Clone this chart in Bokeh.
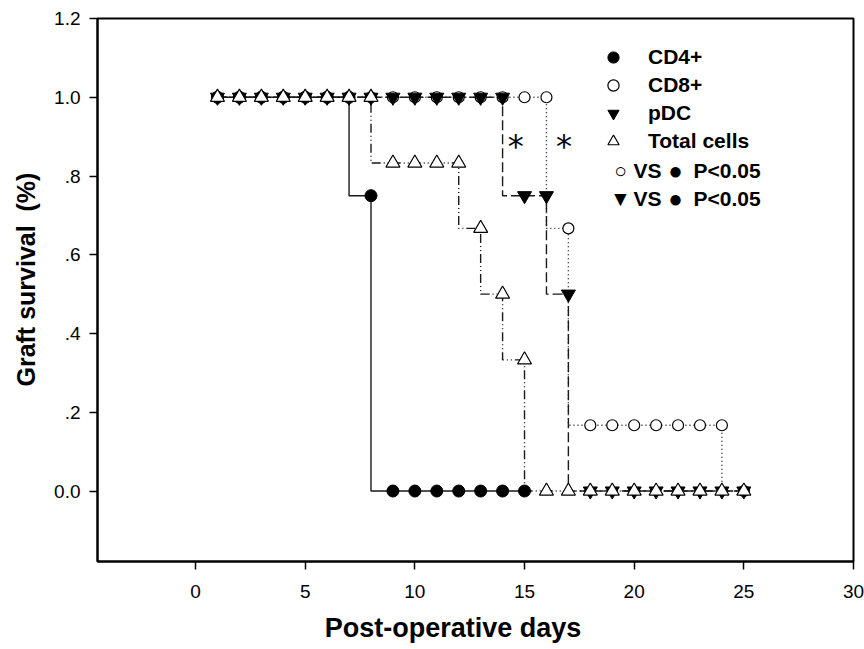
from bokeh.plotting import figure
from bokeh.models import Range1d, FixedTicker, Legend, LegendItem, Label
from bokeh.core.properties import value
from bokeh.embed import file_html
from bokeh.resources import INLINE

# ---- data ----
cd4_days = [1, 2, 3, 4, 5, 6, 7, 8, 9, 10, 11, 12, 13, 14, 15]
cd4_surv = [1.0, 1.0, 1.0, 1.0, 1.0, 1.0, 1.0, 0.75, 0.0, 0.0, 0.0, 0.0, 0.0, 0.0, 0.0]

cd8_days = [1, 2, 3, 4, 5, 6, 7, 8, 9, 10, 11, 12, 13, 14, 15, 16, 17, 18, 19, 20, 21, 22, 23, 24, 25]
cd8_surv = [1.0, 1.0, 1.0, 1.0, 1.0, 1.0, 1.0, 1.0, 1.0, 1.0, 1.0, 1.0, 1.0, 1.0, 1.0, 1.0,
            0.667, 0.167, 0.167, 0.167, 0.167, 0.167, 0.167, 0.167, 0.0]

pdc_days = [1, 2, 3, 4, 5, 6, 7, 8, 9, 10, 11, 12, 13, 14, 15, 16, 17, 18, 19, 20, 21, 22, 23, 24, 25]
pdc_surv = [1.0, 1.0, 1.0, 1.0, 1.0, 1.0, 1.0, 1.0, 1.0, 1.0, 1.0, 1.0, 1.0, 1.0,
            0.75, 0.75, 0.5, 0.0, 0.0, 0.0, 0.0, 0.0, 0.0, 0.0, 0.0]

total_days = [1, 2, 3, 4, 5, 6, 7, 8, 9, 10, 11, 12, 13, 14, 15, 16, 17, 18, 19, 20, 21, 22, 23, 24, 25]
total_surv = [1.0, 1.0, 1.0, 1.0, 1.0, 1.0, 1.0, 1.0, 0.833, 0.833, 0.833, 0.833,
              0.667, 0.5, 0.333, 0.0, 0.0, 0.0, 0.0, 0.0, 0.0, 0.0, 0.0, 0.0, 0.0]

series_names = ["CD4+", "CD8+", "pDC", "Total cells"]
vs_symbols = ["\u25cb", "\u25bc"]
vs_word = "VS"
vs_ref_symbol = "\u25cf"
vs_p_text = "P<0.05"

star_x = [14.6, 16.8]
star_y = [0.875, 0.875]

x_ticks = [0, 5, 10, 15, 20, 25, 30]
y_ticks = [0.0, 0.2, 0.4, 0.6, 0.8, 1.0, 1.2]
y_tick_labels = ["0.0", ".2", ".4", ".6", ".8", "1.0", "1.2"]

NB = "\u00a0"
# titles are padded with no-break spaces so that they sit off-centre like the reference
x_title = "Post-operative days" + NB * 6
y_title = NB * 3 + "Graft survival" + NB * 2 + "(%)"

FONT = "Liberation Sans"

p = figure(width=864, height=649, output_backend="svg", toolbar_location=None,
           x_range=Range1d(-4.47, 30), y_range=Range1d(-0.179, 1.2),
           min_border_left=97, min_border_right=11, min_border_top=18, min_border_bottom=88)
p.xgrid.visible = False
p.ygrid.visible = False
p.outline_line_color = "black"
p.outline_line_width = 2
p.background_fill_color = "white"
p.border_fill_color = "white"

for ax, ticks in ((p.xaxis[0], x_ticks), (p.yaxis[0], y_ticks)):
    ax.ticker = FixedTicker(ticks=ticks)
    ax.major_label_text_font = FONT
    ax.major_label_text_font_size = "19px"
    ax.major_label_text_color = "black"
    ax.major_tick_out = 8
    ax.major_tick_in = 0
    ax.minor_tick_out = 0
    ax.minor_tick_in = 0
    ax.axis_line_width = 2
    ax.major_tick_line_width = 1.5
    ax.axis_label_text_font = FONT
    ax.axis_label_text_font_style = "bold"
    ax.axis_label_text_color = "black"

xa = p.xaxis[0]
xa.major_label_standoff = 15
xa.axis_label = x_title
xa.axis_label_text_font_size = "27px"
xa.axis_label_standoff = 12

ya = p.yaxis[0]
ya.major_label_standoff = 9
ya.major_label_overrides = dict(zip(y_ticks, y_tick_labels))
ya.axis_label = y_title
ya.axis_label_text_font_size = "25px"
ya.axis_label_standoff = 11

LC = "#1a1a1a"
p.step(cd4_days, cd4_surv, mode="before", line_color=LC, line_width=1.4)
p.step(cd8_days, cd8_surv, mode="before", line_color=LC, line_width=1.4, line_dash="1 3")
p.step(pdc_days, pdc_surv, mode="before", line_color=LC, line_width=1.4, line_dash="10 4")
p.step(total_days, total_surv, mode="before", line_color=LC, line_width=1.4, line_dash="9 3 1 3 1 3")

r1 = p.scatter(cd4_days, cd4_surv, marker="circle", size=12, fill_color="black", line_color="black", line_width=1)
r2 = p.scatter(cd8_days, cd8_surv, marker="circle", size=11, fill_color="white", line_color="black", line_width=1.2)
r3 = p.scatter(pdc_days, pdc_surv, marker="inverted_triangle", size=14, fill_color="black", line_color="black", line_width=1)
r4 = p.scatter(total_days, total_surv, marker="triangle", size=14, fill_color="white", line_color="black", line_width=1.2)

p.text(star_x, star_y, text=["*", "*"], text_font=value("DejaVu Sans"), text_font_size="32px",
       text_align="center", text_baseline="middle", text_color="black")

legend = Legend(items=[LegendItem(label=n, renderers=[r]) for n, r in zip(series_names, [r1, r2, r3, r4])],
                location=(501, 406), orientation="vertical", glyph_width=30, glyph_height=28,
                label_height=28, spacing=0, padding=0, margin=0, label_standoff=20,
                border_line_alpha=0, background_fill_alpha=0,
                label_text_font=FONT, label_text_font_style="bold", label_text_font_size="21px",
                label_text_color="black")
p.add_layout(legend, "center")

for sym, yy in zip(vs_symbols, [391, 363]):
    p.add_layout(Label(x=523, y=yy, x_units="screen", y_units="screen", text=sym,
                       text_font=FONT, text_font_style="bold", text_font_size="21px",
                       text_align="center", text_baseline="middle", text_color="black"))
    p.add_layout(Label(x=536, y=yy, x_units="screen", y_units="screen", text=vs_word,
                       text_font=FONT, text_font_style="bold", text_font_size="21px",
                       text_baseline="middle", text_color="black"))
    p.add_layout(Label(x=578, y=yy, x_units="screen", y_units="screen", text=vs_ref_symbol,
                       text_font=FONT, text_font_style="bold", text_font_size="24px",
                       text_align="center", text_baseline="middle", text_color="black"))
    p.add_layout(Label(x=596, y=yy, x_units="screen", y_units="screen", text=vs_p_text,
                       text_font=FONT, text_font_style="bold", text_font_size="21px",
                       text_baseline="middle", text_color="black"))

open("out.html", "w").write(file_html(p, INLINE))
